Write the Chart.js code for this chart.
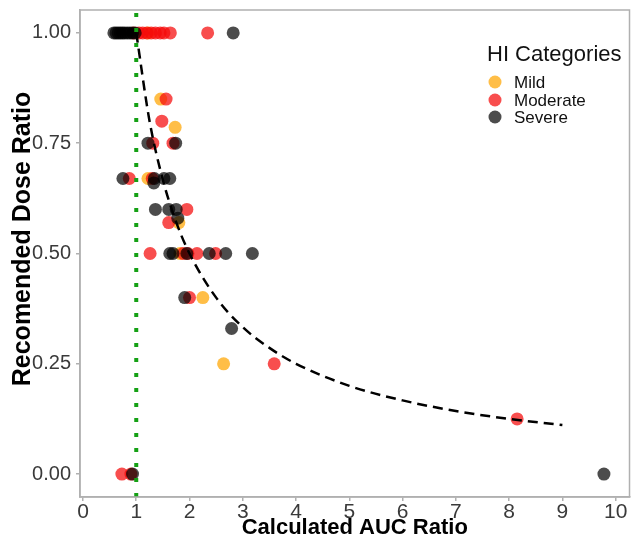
<!DOCTYPE html>
<html>
<head>
<meta charset="utf-8">
<script src="https://cdn.jsdelivr.net/npm/chart.js@4.4.1/dist/chart.umd.min.js"></script>
<style>
  html, body { margin: 0; padding: 0; background: #ffffff; }
  #wrap { width: 636px; height: 540px; position: relative; }
</style>
</head>
<body>
<div id="wrap"><canvas id="c" width="636" height="540"></canvas></div>
<script>
// ---- Data ----
const categories = ["Mild", "Moderate", "Severe"];

const mildX = [1.22, 1.46, 1.73, 1.22, 1.80, 1.82, 2.25, 2.64];
const mildY = [1.00, 0.85, 0.786, 0.67, 0.57, 0.50, 0.40, 0.25];

const moderateX = [0.95, 1.05, 1.12, 1.20, 1.28, 1.36, 1.45, 1.52, 1.64, 2.34,
                   1.56, 1.48, 1.31, 1.69, 0.87, 1.30, 1.95, 1.61, 1.26, 1.88,
                   1.97, 2.14, 2.49, 2.00, 3.59, 8.15, 0.73, 0.90];
const moderateY = [1.00, 1.00, 1.00, 1.00, 1.00, 1.00, 1.00, 1.00, 1.00, 1.00,
                   0.85, 0.80, 0.75, 0.75, 0.67, 0.67, 0.60, 0.57, 0.50, 0.50,
                   0.50, 0.50, 0.50, 0.40, 0.25, 0.125, 0.00, 0.00];

const severeX = [0.58, 0.62, 0.66, 0.70, 0.74, 0.78, 0.83, 0.88, 0.93, 0.98, 2.82,
                 1.22, 1.74, 0.75, 1.34, 1.33, 1.52, 1.63, 1.36, 1.61, 1.75, 1.78,
                 1.63, 1.69, 1.95, 2.37, 2.68, 3.18, 1.91, 2.79, 0.93, 9.78];
const severeY = [1.00, 1.00, 1.00, 1.00, 1.00, 1.00, 1.00, 1.00, 1.00, 1.00, 1.00,
                 0.75, 0.75, 0.67, 0.67, 0.66, 0.67, 0.67, 0.60, 0.60, 0.60, 0.58,
                 0.50, 0.50, 0.50, 0.50, 0.50, 0.50, 0.40, 0.33, 0.00, 0.00];

// dashed reference curve
const curveX = [1.0, 1.25, 1.5, 1.75, 2.0, 2.5, 3.0, 3.5, 4.0, 5.0, 6.0, 7.0, 8.0, 9.0];
const curveY = [1.0, 0.80, 0.667, 0.571, 0.50, 0.40, 0.333, 0.286, 0.25, 0.20, 0.167, 0.143, 0.125, 0.111];

// vertical dotted reference at AUC ratio = 1
const refX = 1;

const xTicks = [0, 1, 2, 3, 4, 5, 6, 7, 8, 9, 10];
const yTicks = [0, 0.25, 0.5, 0.75, 1.0];

const xMin = -0.056, xMax = 10.26;
const yMin = -0.052, yMax = 1.052;

const xTitle = "Calculated AUC Ratio";
const yTitle = "Recomended Dose Ratio";
const legendTitle = "HI Categories";

// ---- Styles ----
const colors = {
  Mild: "rgba(255,165,0,0.72)",
  Moderate: "rgba(245,10,10,0.72)",
  Severe: "rgba(0,0,0,0.70)"
};

function pts(xs, ys) { return xs.map((x, i) => ({ x: x, y: ys[i] })); }

const FONT = "'Liberation Sans', Arial, Helvetica, sans-serif";

const panelBorder = {
  id: "panelBorder",
  afterDatasetsDraw(chart) {
    const { ctx, chartArea: a } = chart;
    ctx.save();
    ctx.strokeStyle = "#b0b0b0";
    ctx.lineWidth = 1.5;
    ctx.strokeRect(a.left, a.top, a.right - a.left, a.bottom - a.top);
    ctx.restore();
  }
};

const extraText = {
  id: "extraText",
  afterDraw(chart) {
    const { ctx } = chart;
    ctx.save();
    // y axis title
    ctx.translate(23, 239);
    ctx.rotate(-Math.PI / 2);
    ctx.fillStyle = "#000";
    ctx.font = "bold 25px " + FONT;
    ctx.textAlign = "center";
    ctx.textBaseline = "middle";
    ctx.fillText(yTitle, 0, 0);
    ctx.restore();

    // legend
    ctx.save();
    ctx.fillStyle = "#111";
    ctx.font = "22px " + FONT;
    ctx.textAlign = "left";
    ctx.textBaseline = "middle";
    ctx.fillText(legendTitle, 487, 55);
    const ys = [82, 100, 117];
    categories.forEach((c, i) => {
      ctx.beginPath();
      ctx.fillStyle = colors[c];
      ctx.arc(495, ys[i], 6.5, 0, Math.PI * 2);
      ctx.fill();
      ctx.fillStyle = "#111";
      ctx.font = "17px " + FONT;
      ctx.fillText(c, 514, ys[i] + 1);
    });
    ctx.restore();
  }
};

const scatterDs = (label, xs, ys, order) => ({
  type: "scatter",
  label: label,
  data: pts(xs, ys),
  backgroundColor: colors[label],
  borderWidth: 0,
  pointRadius: 6.5,
  pointHoverRadius: 6.5,
  order: order
});

new Chart(document.getElementById("c"), {
  type: "scatter",
  data: {
    datasets: [
      {
        type: "line",
        label: "ref",
        data: [{ x: refX, y: yMin }, { x: refX, y: yMax }],
        borderColor: "#14a014",
        borderWidth: 4,
        borderDash: [4, 11],
        borderCapStyle: "butt",
        pointRadius: 0,
        fill: false,
        order: -2
      },
      {
        type: "line",
        label: "curve",
        data: pts(curveX, curveY),
        borderColor: "#000000",
        borderWidth: 2.5,
        borderDash: [10, 6],
        cubicInterpolationMode: "monotone",
        pointRadius: 0,
        fill: false,
        order: -1
      },
      scatterDs("Severe", severeX, severeY, 0),
      scatterDs("Moderate", moderateX, moderateY, 1),
      scatterDs("Mild", mildX, mildY, 2)
    ]
  },
  options: {
    responsive: false,
    animation: false,
    layout: { padding: { left: 0, right: 4, top: 10, bottom: 0 } },
    plugins: {
      legend: { display: false },
      tooltip: { enabled: false }
    },
    scales: {
      x: {
        type: "linear",
        min: xMin,
        max: xMax,
        afterBuildTicks(scale) { scale.ticks = xTicks.map(v => ({ value: v })); },
        afterFit(scale) { scale.height = 43; scale.paddingLeft = 0; scale.paddingRight = 0; },
        grid: { display: true, drawOnChartArea: false, drawTicks: true, tickLength: 4, color: "#b0b0b0", lineWidth: 1.5 },
        border: { display: true, color: "#b0b0b0", width: 1.5 },
        ticks: {
          autoSkip: false,
          maxRotation: 0,
          padding: -1,
          color: "#3a3a3a",
          font: { family: FONT, size: 21 },
          callback: v => String(v)
        },
        title: {
          display: true,
          text: xTitle,
          color: "#000",
          font: { family: FONT, size: 22, weight: "bold" },
          padding: { top: 0, bottom: -1 }
        }
      },
      y: {
        type: "linear",
        min: yMin,
        max: yMax,
        afterBuildTicks(scale) { scale.ticks = yTicks.map(v => ({ value: v })); },
        afterFit(scale) { scale.width = 80; scale.paddingTop = 0; scale.paddingBottom = 0; },
        grid: { display: true, drawOnChartArea: false, drawTicks: true, tickLength: 4, color: "#b0b0b0", lineWidth: 1.5 },
        border: { display: true, color: "#b0b0b0", width: 1.5 },
        ticks: {
          autoSkip: false,
          padding: 5,
          color: "#3a3a3a",
          font: { family: FONT, size: 20 },
          callback: v => Number(v).toFixed(2)
        },
        title: { display: false }
      }
    }
  },
  plugins: [panelBorder, extraText]
});
</script>
</body>
</html>
